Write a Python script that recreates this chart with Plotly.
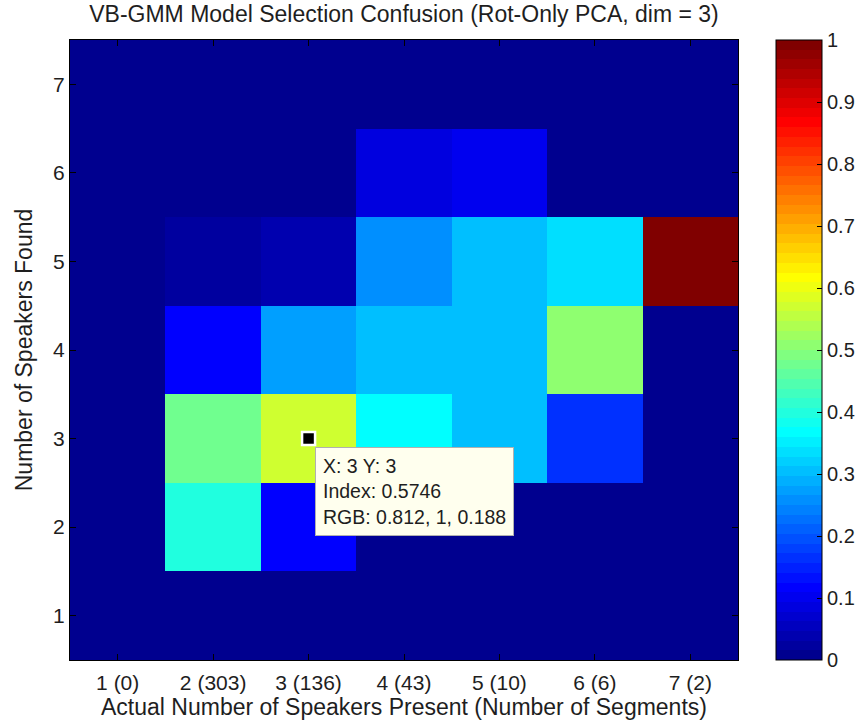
import numpy as np
import plotly.graph_objects as go

# Actual number of speakers (columns) and number found (rows)
actual_labels = ["1 (0)", "2 (303)", "3 (136)", "4 (43)", "5 (10)", "6 (6)", "7 (2)"]
actual = [1, 2, 3, 4, 5, 6, 7]
found = [1, 2, 3, 4, 5, 6, 7]

# Fraction of segments for each actual count that were assigned each found count
col_1 = [0.0, 0.0, 0.0, 0.0, 0.0, 0.0, 0.0]
col_2 = [0.0, 0.405, 0.475, 0.11, 0.02, 0.0, 0.0]
col_3 = [0.0, 0.11, 0.5746, 0.275, 0.042, 0.0, 0.0]
col_4 = [0.0, 0.0, 0.36, 0.31, 0.255, 0.09, 0.0]
col_5 = [0.0, 0.0, 0.3, 0.3, 0.3, 0.1, 0.0]
col_6 = [0.0, 0.0, 0.1667, 0.5, 0.3333, 0.0, 0.0]
col_7 = [0.0, 0.0, 0.0, 0.0, 1.0, 0.0, 0.0]

columns = [col_1, col_2, col_3, col_4, col_5, col_6, col_7]
z = np.array(columns).T  # rows = found, cols = actual

# Colour scale ticks
cbar_ticks = [0.0, 0.1, 0.2, 0.3, 0.4, 0.5, 0.6, 0.7, 0.8, 0.9, 1.0]
cbar_labels = ["0", "0.1", "0.2", "0.3", "0.4", "0.5", "0.6", "0.7", "0.8", "0.9", "1"]

# Selected data tip
tip_x, tip_y, tip_index = 3, 3, 0.5746
tip_rgb = "0.812, 1, 0.188"


def jet(m=64):
    n = int(np.ceil(m / 4))
    u = np.concatenate([np.arange(1, n + 1) / n, np.ones(n - 1), np.arange(n, 0, -1) / n])
    g = int(np.ceil(n / 2)) - (1 if m % 4 == 1 else 0) + np.arange(1, len(u) + 1)
    r = g + n
    b = g - n
    g = g[g <= m]
    r = r[r <= m]
    b = b[b >= 1]
    J = np.zeros((m, 3))
    J[r - 1, 0] = u[: len(r)]
    J[g - 1, 1] = u[: len(g)]
    J[b - 1, 2] = u[len(u) - len(b):]
    return J


J = jet(64)
colorscale = []
for i, (r, g, b) in enumerate(J):
    c = f"rgb({int(round(r * 255))},{int(round(g * 255))},{int(round(b * 255))})"
    colorscale.append([i / 64, c])
    colorscale.append([(i + 1) / 64, c])

FONT = "Liberation Sans, Arial, Helvetica, sans-serif"
TXT = "#1e1e1e"

W, H = 858, 723
ML, MR, MT, MB = 70, 120, 40, 63
plot_w = W - ML - MR
CB_X = (776 - ML) / plot_w   # colour bar left edge in paper units
CB_THICK = 46

fig = go.Figure()
fig.add_trace(go.Heatmap(
    x=actual, y=found, z=z,
    zmin=0, zmax=1,
    colorscale=colorscale,
    xgap=0, ygap=0,
    colorbar=dict(
        x=CB_X, xanchor="left", xref="paper",
        y=0.5, yanchor="middle", len=1.0, lenmode="fraction",
        thickness=CB_THICK, thicknessmode="pixels",
        outlinecolor="black", outlinewidth=1,
        tickmode="array", tickvals=cbar_ticks, ticktext=cbar_labels,
        ticks="inside", ticklen=5, tickcolor="black",
        tickfont=dict(family=FONT, size=20, color=TXT),
        ypad=0, xpad=0,
    ),
    hoverinfo="skip",
))

# Matching tick marks along the left edge of the colour bar
for t in cbar_ticks[1:-1]:
    fig.add_shape(type="line", xref="paper", yref="paper",
                  x0=CB_X, x1=CB_X + 5 / plot_w, y0=t, y1=t,
                  line=dict(color="black", width=1))

fig.add_trace(go.Scatter(
    x=[tip_x], y=[tip_y], mode="markers",
    marker=dict(symbol="square", size=13, color="black",
                line=dict(color="white", width=2.5)),
    showlegend=False, hoverinfo="skip",
))

fig.add_annotation(
    x=tip_x + 0.07, y=tip_y - 0.1, xref="x", yref="y",
    xanchor="left", yanchor="top", showarrow=False, align="left",
    text=f"X: {tip_x} Y: {tip_y}<br>Index: {tip_index}<br>RGB: {tip_rgb}",
    font=dict(family=FONT, size=19.5, color=TXT),
    bgcolor="#ffffee", bordercolor="#b0b0b0", borderwidth=1, borderpad=7,
)

axis_common = dict(
    showgrid=False, zeroline=False, showline=True, linecolor="black", linewidth=1,
    mirror="ticks", ticks="inside", ticklen=6, tickcolor="black",
    tickfont=dict(family=FONT, size=21, color=TXT),
    range=[0.5, 7.5],
)

fig.update_layout(
    width=W, height=H,
    margin=dict(l=ML, r=MR, t=MT, b=MB, autoexpand=False),
    paper_bgcolor="white", plot_bgcolor="white",
    title=dict(text="VB-GMM Model Selection Confusion (Rot-Only PCA, dim = 3)",
               x=0.5, xref="paper", xanchor="center", y=1, yref="container",
               yanchor="top", pad=dict(t=6),
               font=dict(family=FONT, size=23, color=TXT)),
    xaxis=dict(axis_common, tickmode="array", tickvals=actual, ticktext=actual_labels,
               ticklabelstandoff=4,
               title=dict(text="Actual Number of Speakers Present (Number of Segments)",
                          font=dict(family=FONT, size=23, color=TXT), standoff=0)),
    yaxis=dict(axis_common, tickmode="array", tickvals=found,
               ticktext=[str(f) for f in found],
               title=dict(text="Number of Speakers Found",
                          font=dict(family=FONT, size=23, color=TXT), standoff=14)),
    showlegend=False,
)

fig.write_html("out.html")
